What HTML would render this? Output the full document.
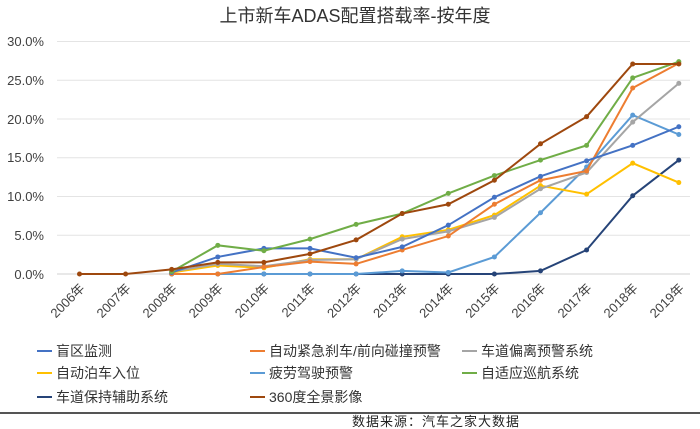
<!DOCTYPE html>
<html><head><meta charset="utf-8"><style>
body{margin:0;background:#fff;}
svg{display:block;font-family:"Liberation Sans","Noto Sans CJK SC",sans-serif;}
</style></head><body>
<svg width="700" height="429" viewBox="0 0 700 429">
<text x="355" y="22" text-anchor="middle" font-size="18" fill="#333">上市新车ADAS配置搭载率-按年度</text>
<g stroke="#e4e4e4" stroke-width="1">
<line x1="57" x2="690" y1="41.5" y2="41.5"/><line x1="57" x2="690" y1="80.3" y2="80.3"/>
<line x1="57" x2="690" y1="119" y2="119"/><line x1="57" x2="690" y1="157.8" y2="157.8"/>
<line x1="57" x2="690" y1="196.5" y2="196.5"/><line x1="57" x2="690" y1="235.3" y2="235.3"/>
<line x1="57" x2="690" y1="274" y2="274" stroke="#d0d0d0"/>
</g>
<g font-size="13" fill="#404040" text-anchor="end">
<text x="44" y="46">30.0%</text><text x="44" y="85">25.0%</text><text x="44" y="124">20.0%</text>
<text x="44" y="162">15.0%</text><text x="44" y="201">10.0%</text><text x="44" y="240">5.0%</text><text x="44" y="279">0.0%</text>
</g>
<g id="xl" font-size="13" fill="#404040" text-anchor="end"></g>
<g id="series"></g>
<g font-size="14" fill="#333">
<line x1="37" x2="52" y1="351" y2="351" stroke="#4472C4" stroke-width="2"/><text x="56" y="356">盲区监测</text>
<line x1="250" x2="265" y1="351" y2="351" stroke="#ED7D31" stroke-width="2"/><text x="269" y="356">自动紧急刹车/前向碰撞预警</text>
<line x1="462" x2="477" y1="351" y2="351" stroke="#A5A5A5" stroke-width="2"/><text x="481" y="356">车道偏离预警系统</text>
<line x1="37" x2="52" y1="373" y2="373" stroke="#FFC000" stroke-width="2"/><text x="56" y="378">自动泊车入位</text>
<line x1="250" x2="265" y1="373" y2="373" stroke="#5B9BD5" stroke-width="2"/><text x="269" y="378">疲劳驾驶预警</text>
<line x1="462" x2="477" y1="373" y2="373" stroke="#70AD47" stroke-width="2"/><text x="481" y="378">自适应巡航系统</text>
<line x1="37" x2="52" y1="397" y2="397" stroke="#264478" stroke-width="2"/><text x="56" y="402">车道保持辅助系统</text>
<line x1="250" x2="265" y1="397" y2="397" stroke="#9E480E" stroke-width="2"/><text x="269" y="402">360度全景影像</text>
</g>
<line x1="0" x2="700" y1="413" y2="413" stroke="#555" stroke-width="2"/>
<text x="352" y="426" font-size="13" fill="#222" letter-spacing="1">数据来源：汽车之家大数据</text>
</svg>
<script>
var x0=79.5,dx=46.1,y0=274,k=7.75;
var ns="http://www.w3.org/2000/svg";
var xl=document.getElementById('xl');
for(var i=0;i<14;i++){var t=document.createElementNS(ns,'text');var x=x0+i*dx+6;
t.setAttribute('transform','translate('+x+',289) rotate(-45)');t.textContent=(2006+i)+'年';xl.appendChild(t);}
var S=[
["#264478",2,[0,0,0,0,0,0,0,0,0.4,3.1,10.1,14.7]],
["#5B9BD5",2,[0,0,0,0,0,0.4,0.2,2.2,7.9,13.8,20.5,18.0]],
["#FFC000",2,[0.2,1.1,0.8,1.9,1.9,4.8,5.7,7.6,11.4,10.3,14.3,11.8]],
["#A5A5A5",2,[0.3,1.3,1.0,1.8,1.9,4.5,5.5,7.3,11.0,13.1,19.6,24.6]],
["#ED7D31",2,[0,0,0.9,1.6,1.3,3.1,4.9,9.0,12.1,13.3,24.0,27.2]],
["#4472C4",2,[0.2,2.2,3.3,3.3,2.1,3.5,6.3,9.9,12.6,14.6,16.6,19.0]],
["#70AD47",2,[0.3,3.7,3.0,4.5,6.4,7.8,10.4,12.7,14.7,16.6,25.3,27.4]],
["#9E480E",0,[0,0,0.6,1.5,1.5,2.6,4.4,7.8,9.0,12.1,16.8,20.3,27.1,27.1]]];
var g=document.getElementById('series');
S.forEach(function(s){var st=s[1];var pts=s[2].map(function(v,j){return [x0+(st+j)*dx,y0-v*k];});
var p=document.createElementNS(ns,'polyline');p.setAttribute('points',pts.map(function(a){return a.join(',')}).join(' '));
p.setAttribute('fill','none');p.setAttribute('stroke',s[0]);p.setAttribute('stroke-width','2');g.appendChild(p);
pts.forEach(function(a){var c=document.createElementNS(ns,'circle');c.setAttribute('cx',a[0]);c.setAttribute('cy',a[1]);c.setAttribute('r','2.5');c.setAttribute('fill',s[0]);g.appendChild(c);});});
</script>
</body></html>
